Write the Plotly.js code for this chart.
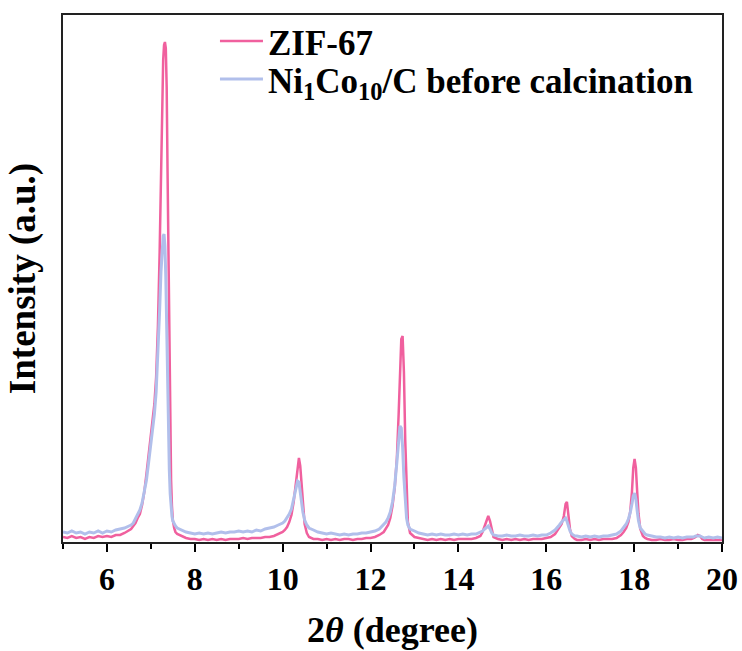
<!DOCTYPE html>
<html>
<head>
<meta charset="utf-8">
<script src="https://cdn.plot.ly/plotly-3.0.1.min.js"></script>
<style>
  html, body { margin: 0; padding: 0; background: #fff; }
  #chart { width: 742px; height: 651px; }
</style>
</head>
<body>
<div id="chart"></div>
<script>
// XRD patterns, 2θ in degrees, intensity in arbitrary units
const twoTheta = [
  5.0, 5.1, 5.2, 5.3, 5.4, 5.5, 5.6, 5.7, 5.8, 5.9,
  6.0, 6.1, 6.2, 6.3, 6.4, 6.5, 6.55, 6.6, 6.65, 6.7,
  6.75, 6.8, 6.85, 6.9, 6.95, 7.0, 7.04, 7.08, 7.12, 7.16,
  7.2, 7.23, 7.26, 7.28, 7.30, 7.32, 7.34, 7.36, 7.38, 7.40,
  7.42, 7.44, 7.46, 7.48, 7.50, 7.53, 7.56, 7.6, 7.7, 7.8,
  7.9, 8.0, 8.1, 8.2, 8.3, 8.4, 8.5, 8.6, 8.7, 8.8,
  8.9, 9.0, 9.1, 9.2, 9.3, 9.4, 9.5, 9.6, 9.7, 9.8,
  9.9, 10.0, 10.05, 10.1, 10.15, 10.2, 10.25, 10.3, 10.34, 10.37,
  10.40, 10.43, 10.46, 10.5, 10.55, 10.6, 10.7, 10.8, 10.9, 11.0,
  11.1, 11.2, 11.3, 11.4, 11.5, 11.6, 11.7, 11.8, 11.9, 12.0,
  12.1, 12.2, 12.3, 12.35, 12.4, 12.45, 12.5, 12.55, 12.6, 12.64,
  12.67, 12.70, 12.73, 12.76, 12.79, 12.82, 12.85, 12.9, 13.0, 13.1,
  13.2, 13.3, 13.4, 13.5, 13.6, 13.7, 13.8, 13.9, 14.0, 14.1,
  14.2, 14.3, 14.4, 14.5, 14.55, 14.6, 14.65, 14.68, 14.72, 14.76,
  14.8, 14.9, 15.0, 15.1, 15.2, 15.3, 15.4, 15.5, 15.6, 15.7,
  15.8, 15.9, 16.0, 16.1, 16.2, 16.25, 16.3, 16.35, 16.4, 16.44,
  16.47, 16.5, 16.54, 16.58, 16.65, 16.7, 16.8, 16.9, 17.0, 17.1,
  17.2, 17.3, 17.4, 17.5, 17.6, 17.7, 17.76, 17.82, 17.87, 17.91,
  17.95, 17.98, 18.01, 18.04, 18.07, 18.1, 18.14, 18.2, 18.25, 18.3,
  18.4, 18.5, 18.6, 18.7, 18.8, 18.9, 19.0, 19.1, 19.2, 19.3,
  19.35, 19.4, 19.45, 19.5, 19.55, 19.6, 19.7, 19.8, 19.9, 20.0
];

const zif67 = [
  5, 4, 6, 4, 5, 3, 5, 4, 6, 5,
  6, 5, 7, 7, 9, 12, 13, 16, 19, 24,
  28, 37, 50, 68, 88, 106, 120, 138, 165, 215,
  290, 370, 445, 482, 497, 500, 494, 455, 370, 275,
  185, 110, 62, 36, 22, 14, 10, 8, 6, 4,
  3, 3, 2, 3, 2, 3, 2, 3, 2, 3,
  3, 3, 4, 3, 4, 4, 4, 5, 5, 6,
  8, 10, 12, 15, 20, 27, 40, 60, 78, 84,
  76, 56, 34, 18, 9, 5, 3, 3, 2, 3,
  2, 3, 2, 3, 3, 2, 3, 3, 4, 4,
  5, 7, 10, 13, 17, 24, 36, 54, 84, 128,
  175, 203, 206, 170, 102, 46, 20, 9, 5, 4,
  3, 2, 3, 2, 3, 2, 3, 2, 3, 3,
  3, 3, 4, 6, 10, 16, 23, 26, 21, 11,
  5, 3, 2, 3, 2, 3, 2, 3, 2, 3,
  3, 3, 4, 5, 8, 11, 14, 18, 26, 38,
  40, 27, 13, 6, 3, 2, 2, 3, 2, 3,
  2, 3, 3, 3, 4, 7, 10, 14, 20, 30,
  50, 74, 83, 74, 50, 28, 13, 6, 4, 3,
  2, 2, 3, 2, 2, 3, 2, 2, 3, 3,
  4, 5, 7, 6, 3, 2, 2, 2, 2, 2
];

const niCoBefore = [
  10, 9, 11, 9, 10, 8, 10, 9, 11, 9,
  11, 10, 12, 13, 14, 16, 17, 19, 23, 27,
  32, 39, 49, 62, 80, 98, 112, 128, 150, 185,
  232, 270, 296, 306, 308, 296, 265, 213, 155, 108,
  72, 48, 34, 26, 21, 18, 16, 14, 12, 10,
  9, 8, 9, 8, 9, 8, 9, 10, 9, 10,
  10, 11, 10, 11, 10, 12, 11, 13, 14, 15,
  17, 19, 21, 24, 28, 33, 42, 54, 61, 60,
  52, 40, 30, 22, 17, 14, 12, 10, 9, 8,
  9, 8, 7, 8, 7, 8, 8, 9, 9, 10,
  11, 13, 17, 20, 24, 30, 40, 56, 80, 104,
  116, 114, 95, 64, 38, 24, 17, 13, 11, 9,
  8, 7, 8, 7, 8, 7, 7, 8, 7, 8,
  7, 8, 8, 10, 11, 13, 15, 16, 13, 9,
  7, 6, 6, 7, 6, 6, 7, 6, 6, 7,
  6, 7, 7, 9, 12, 14, 17, 20, 22, 24,
  21, 16, 11, 8, 6, 6, 5, 6, 5, 6,
  5, 6, 6, 7, 8, 11, 14, 18, 23, 29,
  38, 46, 49, 43, 31, 21, 14, 10, 8, 7,
  6, 5, 5, 4, 5, 4, 5, 4, 5, 5,
  5, 6, 6, 6, 5, 4, 5, 4, 5, 4
];

const seriesNames = ['ZIF-67', 'Ni<sub>1</sub>Co<sub>10</sub>/C before calcination'];
const xTickVals = [6, 8, 10, 12, 14, 16, 18, 20];
const xTickText = ['6', '8', '10', '12', '14', '16', '18', '20'];

const serif = 'Liberation Serif, Times New Roman, serif';

const traces = [
  {
    x: twoTheta, y: zif67, name: seriesNames[0],
    type: 'scatter', mode: 'lines', legend: 'legend',
    line: { color: '#F0609E', width: 2.5 }
  },
  {
    x: twoTheta, y: niCoBefore, name: seriesNames[1],
    type: 'scatter', mode: 'lines', legend: 'legend2',
    line: { color: '#B1BFEB', width: 3 }
  }
];

// one legend box per series so each row can sit at its own height
const legendStyle = (yPos) => ({
  x: 0.2306, y: yPos, xanchor: 'left', yanchor: 'top',
  bgcolor: 'rgba(0,0,0,0)',
  font: { family: serif, size: 35, color: '#000000', weight: 'bold' },
  itemwidth: 43
});

const layout = {
  width: 742,
  height: 651,
  margin: { l: 63, r: 20, t: 15, b: 109 },
  paper_bgcolor: '#ffffff',
  plot_bgcolor: '#ffffff',
  font: { family: serif, color: '#000000' },
  showlegend: true,
  legend: legendStyle(1.006),
  legend2: legendStyle(0.934),
  xaxis: {
    range: [5, 20],
    tickmode: 'array',
    tickvals: xTickVals,
    ticktext: xTickText,
    ticks: 'outside',
    ticklen: 8,
    tickwidth: 2,
    tickcolor: '#000',
    minor: { dtick: 1, tick0: 5, ticks: 'outside', ticklen: 5, tickwidth: 2, tickcolor: '#000', showgrid: false },
    showline: true,
    mirror: true,
    linecolor: '#222',
    linewidth: 2,
    showgrid: false,
    zeroline: false,
    tickfont: { family: serif, size: 32, weight: 'bold', color: '#000' },
    title: {
      text: '2<i>θ</i> (degree)',
      font: { family: serif, size: 36, weight: 'bold', color: '#000' },
      standoff: 20
    }
  },
  yaxis: {
    range: [0, 527],
    showticklabels: false,
    ticks: '',
    showline: true,
    mirror: true,
    linecolor: '#222',
    linewidth: 2,
    showgrid: false,
    zeroline: false,
    title: {
      text: 'Intensity (a.u.)',
      font: { family: serif, size: 37, weight: 'bold', color: '#000' },
      standoff: 14
    }
  }
};

Plotly.newPlot('chart', traces, layout, { displayModeBar: false, staticPlot: true });
</script>
</body>
</html>
